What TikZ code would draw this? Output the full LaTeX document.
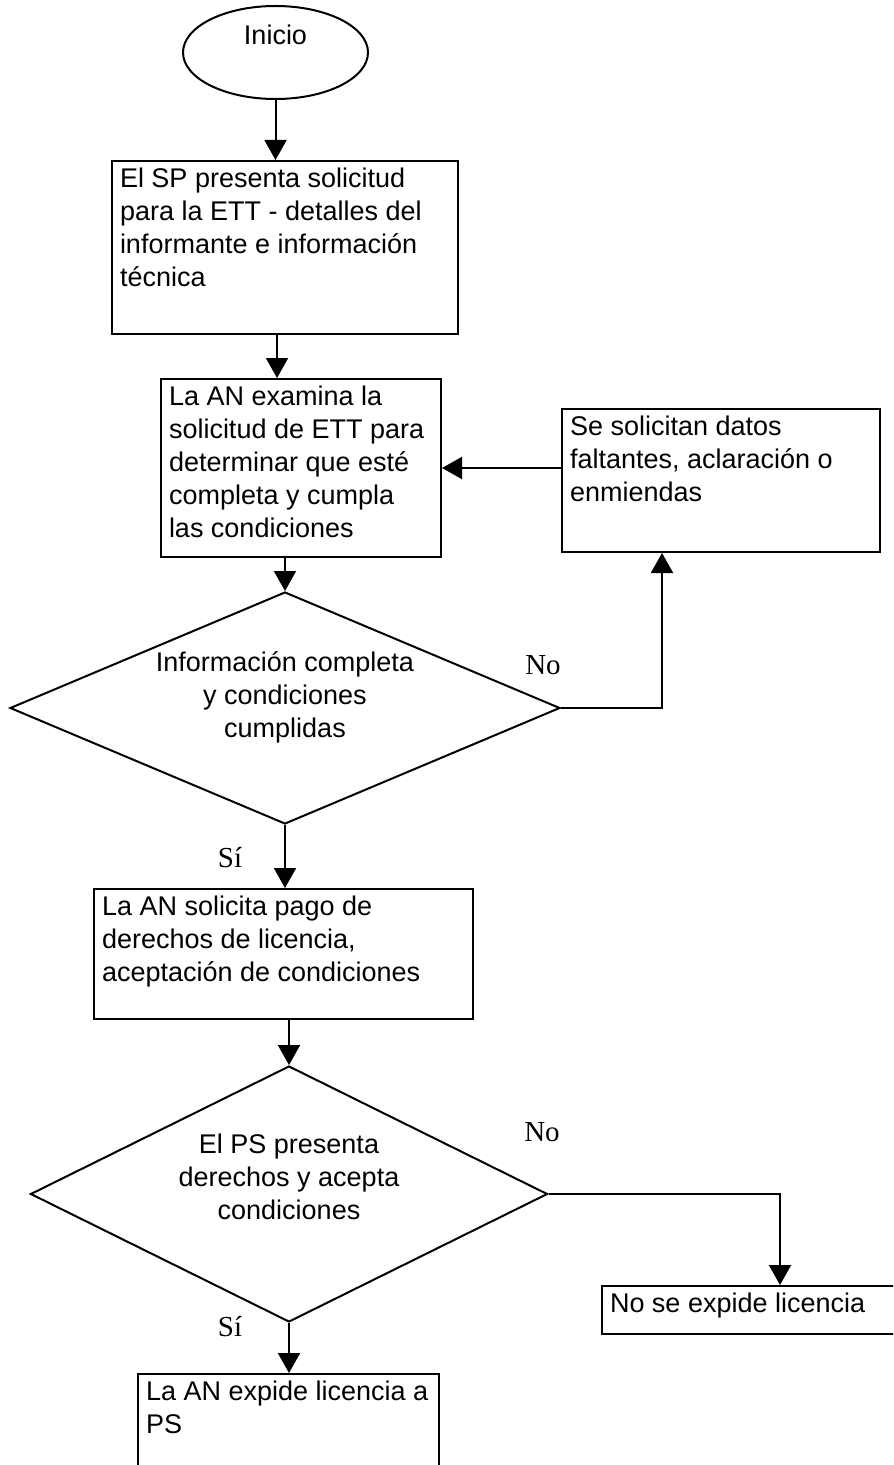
\documentclass[tikz,border=0pt]{standalone}
\usepackage{fontspec}
\usepackage{tikz}
\usetikzlibrary{positioning}
\usetikzlibrary{shapes,arrows.meta}

\newfontfamily\arialfont{Liberation Sans}
\newfontfamily\timesfont{Liberation Serif}
\newcommand{\caja}[3]{\parbox[t][#2][t]{#1}{\raggedright #3}}

\begin{document}
\begin{tikzpicture}[x=0.5pt, y=-0.5pt, line width=1pt,
    >={Triangle[length=10pt,width=11pt]},
    txt/.style={font=\arialfont\fontsize{13.5}{16.5}\selectfont},
    proc/.style={txt, draw, anchor=north west, inner xsep=4pt, inner ysep=3.5pt},
    dec/.style={txt, draw, diamond, align=center, inner sep=0pt},
    rama/.style={font=\timesfont\fontsize{14.5}{17}\selectfont}]
    \useasboundingbox (0,0) rectangle (893,1465);
    \clip (0,0) rectangle (893,1465);

    \node(ini) [txt, draw, ellipse, inner sep=0pt, minimum width=92.5pt, minimum height=46.5pt, text height=9.7pt, text depth=17.2pt] at (275.5,52.5) {Inicio};
    \node(sol) [proc] at (111,160) {\caja{165pt}{79.5pt}{El SP presenta solicitud\\para la ETT - detalles del\\informante e información\\técnica}};
    \node(exam) [proc] at (160,378) {\caja{132pt}{82pt}{La AN examina la\\solicitud de ETT para\\determinar que esté\\completa y cumpla\\las condiciones}};
    \node(fix) [proc] at (561,408) {\caja{151pt}{64.5pt}{Se solicitan datos\\faltantes, aclaración o\\enmiendas}};
    \node(d1) [dec, aspect=2.37, minimum width=275pt, minimum height=116pt, text depth=13pt] at (285,708) {Información completa\\y condiciones\\cumplidas};
    \node(pago) [proc] at (93,888) {\caja{181.5pt}{58pt}{La AN solicita pago de\\derechos de licencia,\\aceptación de condiciones}};
    \node(d2) [dec, aspect=2.02, minimum width=258.5pt, minimum height=128pt, text depth=17pt] at (289,1194) {El PS presenta\\derechos y acepta\\condiciones};
    \node(nolic) [proc, anchor=north] at (780,1285) {\caja{170pt}{17pt}{No se expide licencia}};
    \node(exp) [proc] at (137,1373) {\caja{142.5pt}{48pt}{La AN expide licencia a\\PS}};

    \node(no1) [rama] at (543,665) {No};
    \node(si1) [rama] at (230,858) {Sí};
    \node(no2) [rama] at (542,1132) {No};
    \node(si2) [rama] at (230,1327) {Sí};

    \draw [->] (ini) -- (ini |- sol.north);
    \draw [->] ([xshift=-4pt]sol.south) -- ([xshift=-4pt]sol.south |- exam.north);
    \draw [->] (d1.north |- exam.south) -- (d1.north);
    \draw [->] (d1.east) -| ([xshift=-29.5pt]fix.south);
    \draw [->] (fix.west |- exam.east) -- (exam.east);
    \draw [->] (d1.south) -- (d1.south |- pago.north);
    \draw [->] (d2.north |- pago.south) -- (d2.north);
    \draw [->] (d2.east) -| (nolic.north);
    \draw [->] (d2.south) -- (d2.south |- exp.north);
\end{tikzpicture}
\end{document}
